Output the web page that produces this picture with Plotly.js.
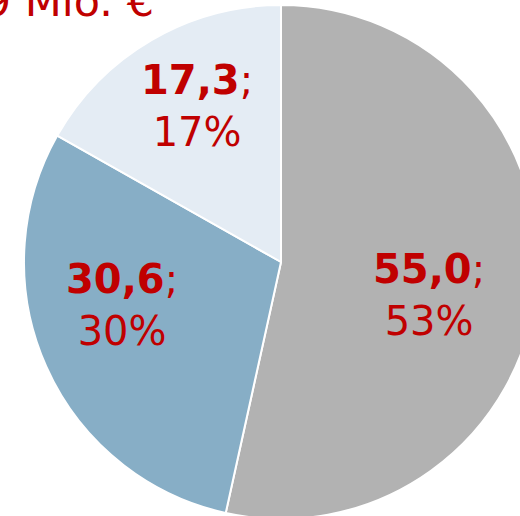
<!DOCTYPE html>
<html><head><meta charset="utf-8">
<script src="https://cdn.plot.ly/plotly-3.0.1.min.js"></script>
<style>html,body{margin:0;padding:0;overflow:hidden;background:#fff;width:520px;height:516px}#c{width:560px;height:530px}</style>
</head><body><div id="c"></div>
<script>
const categories = ["A", "B", "C"];
const values = [55.0, 30.6, 17.3];
const colors = ["#b2b2b2", "#87aec6", "#e4ecf4"];
const totalLabel = "102,9 Mio. €";
// label block centres in pixels (layout only)
const labelPos = [[429, 295], [122, 305], [197, 106]];

const W = 560, H = 530;
const total = values.reduce((a, b) => a + b, 0);
const fmt = v => v.toFixed(1).replace(".", ",");
const trace = {
  type: "pie",
  labels: categories,
  values: values,
  sort: false,
  direction: "clockwise",
  rotation: 0,
  marker: {colors: colors, line: {color: "#ffffff", width: 2}},
  textinfo: "none",
  hoverinfo: "none",
  domain: {x: [24 / W, 538 / W], y: [11 / H, 525 / H]}
};
const annotations = values.map((v, i) => ({
  text: "<b>" + fmt(v) + "</b>;<br>" + Math.round(v / total * 100) + "%",
  xref: "paper", yref: "paper",
  x: labelPos[i][0] / W, y: 1 - labelPos[i][1] / H,
  xanchor: "center", yanchor: "middle", showarrow: false,
  font: {family: "DejaVu Sans", size: 40, color: "#c00000"}
}));
annotations.push({
  text: totalLabel, xref: "paper", yref: "paper",
  x: 156 / W, xanchor: "right", y: 1 - 1 / H, yanchor: "middle",
  showarrow: false,
  font: {family: "DejaVu Sans", size: 43, color: "#c00000"}
});
const layout = {
  width: W, height: H,
  margin: {l: 0, r: 0, t: 0, b: 0},
  separators: ",.",
  showlegend: false,
  paper_bgcolor: "#ffffff",
  annotations: annotations
};
Plotly.newPlot("c", [trace], layout, {staticPlot: true});
</script></body></html>
